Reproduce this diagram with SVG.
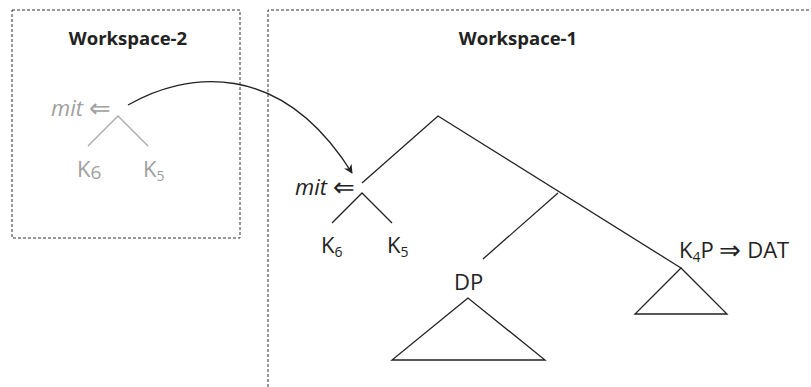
<svg xmlns="http://www.w3.org/2000/svg" width="811" height="387" viewBox="0 0 811 387">
<defs>
<style>
.box{fill:none;stroke:#333;stroke-width:1;stroke-dasharray:3,2}
.ttl{font-family:"Open Sans","Liberation Sans",sans-serif;font-weight:bold;font-size:18.5px;fill:#222;text-anchor:middle}
.lbl{font-family:"Open Sans","Liberation Sans",sans-serif;font-size:22px;fill:#222}
.g{fill:#a0a0a0}
.ln{stroke:#222;stroke-width:1.3;fill:none}
.gl{stroke:#a8a8a8;stroke-width:1.3;fill:none}
</style>
<marker id="ah" viewBox="0 0 10 10" refX="9" refY="5" markerWidth="9" markerHeight="9" orient="auto" markerUnits="userSpaceOnUse">
<path d="M0,0 L10,5 L0,10 L3,5 z" fill="#222"/>
</marker>
</defs>
<g id="workspace-2">
<rect class="box" x="12" y="10" width="228" height="228"/>
<text class="ttl" x="128" y="45">Workspace-2</text>
</g>
<g id="workspace-1">
<path class="box" d="M268,387 L268,10 L811,10"/>
<text class="ttl" x="518" y="45">Workspace-1</text>
</g>
<g id="ws2-mit">
<text class="lbl g" x="51" y="116"><tspan font-style="italic">mit</tspan> <tspan font-size="26" dy="1">⇐</tspan></text>
<path class="gl" d="M88,146 L118,116 L148,146"/>
<text class="lbl g" x="77" y="177">K<tspan font-size="19" dy="2">6</tspan></text>
<text class="lbl g" x="143" y="177">K<tspan font-size="14" dy="4">5</tspan></text>
</g>
<g id="ws1-mit">
<text class="lbl" x="295" y="195"><tspan font-style="italic">mit</tspan> <tspan font-size="26" dy="1">⇐</tspan></text>
<path class="ln" d="M332,223 L362,193 L392,223"/>
<text class="lbl" x="321" y="253">K<tspan font-size="14" dy="4">6</tspan></text>
<text class="lbl" x="387" y="253">K<tspan font-size="14" dy="4">5</tspan></text>
</g>
<g id="root">
<path class="ln" d="M362,183 L438,116 L681,268"/>
</g>
<g id="dp">
<path class="ln" d="M558,193 L483,259"/>
<text class="lbl" x="454" y="290">DP</text>
<path class="ln" d="M468,298 L392,360 L545,360 Z"/>
</g>
<g id="k4p">
<text class="lbl" x="679" y="258">K<tspan font-size="14" dy="4">4</tspan><tspan dy="-4">P </tspan><tspan font-size="26" dy="1">⇒</tspan><tspan dy="-1"> DAT</tspan></text>
<path class="ln" d="M681,268 L635,314 L727,314 Z"/>
</g>
<g id="connectors">
<path class="ln" d="M128,105 C185,72 280,58 352,173" marker-end="url(#ah)"/>
</g>
</svg>
